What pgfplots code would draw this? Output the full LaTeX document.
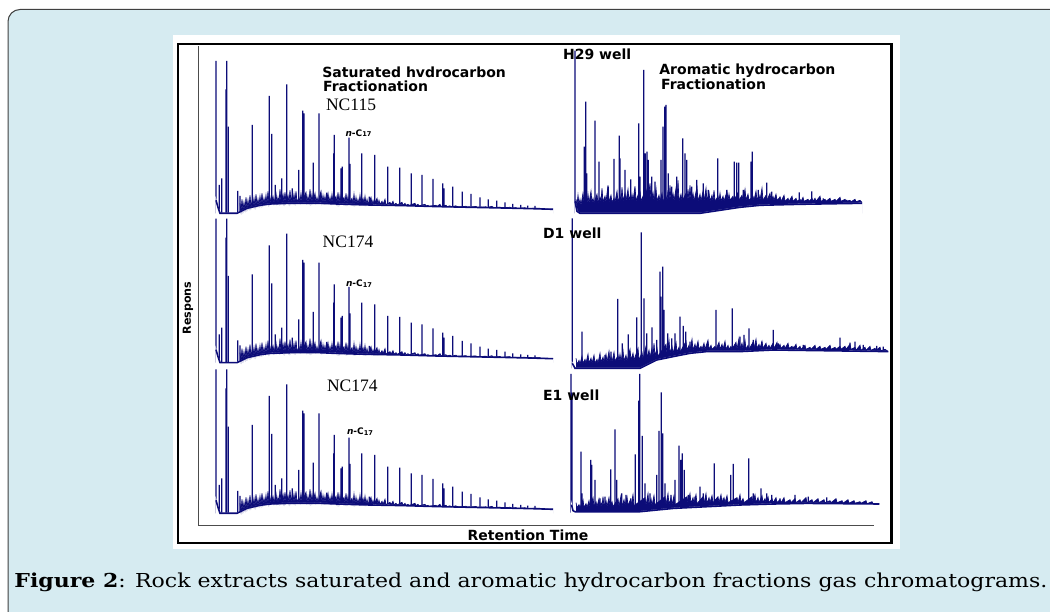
\documentclass[border=0pt]{standalone}
\usepackage{graphicx}
\usepackage{fontspec}
\usepackage{pgfplots}
\usepackage{pgfplotstable}
\pgfplotsset{compat=1.18}
\setmainfont{DejaVu Serif}
\newfontfamily\sansf{DejaVu Sans}
\newfontfamily\serifnc{Liberation Serif}
\newfontfamily\capfont{DejaVu Serif}
\definecolor{navyc}{RGB}{12,12,120}
\definecolor{bgblue}{RGB}{214,235,241}

% ---------- saturated fraction (shared by the three left panels) ----------
\pgfplotstableread[row sep=\\]{x h\\
219.3 28.3\\ 221.7 35\\ 228.3 86.7\\ 237.7 22.3\\ 240 17.3\\ 252.3 88.3\\ 269.3 117.3\\ 271.7 79.3\\
275.3 28.3\\ 281.7 35\\ 286.7 129\\ 292.3 25\\ 298.7 43.3\\ 302.7 102.7\\ 304 100\\ 313.3 50.7\\
319 100\\ 326.7 20.7\\ 333.7 60\\ 334.3 78.3\\ 341 45\\ 342.3 46.7\\ 349 75.7\\ 350 49.3\\
361.7 60\\ 369.3 16.7\\ 374.7 58.3\\ 387.7 46.7\\ 399.7 45.7\\ 411.3 40\\ 422 38.3\\ 433 34.3\\
442.7 30\\ 444 25\\ 452.7 26.7\\ 462.3 21.7\\ 471 19.3\\ 480 16\\ 488.3 14\\ 496.7 12.7\\
505 11\\ 512.7 9.3\\ 520.7 8.3\\ 527.7 7.7\\ 535 7.3\\
}\satpeaks
\pgfplotstableread[row sep=\\]{x h\\
216 13\\ 218 6\\ 220 0\\ 237 0\\ 247 5\\ 260 8\\ 270 9.3\\ 290 10\\ 303 10\\ 320 10\\ 337 9.3\\
355 8.7\\ 370 8.3\\ 403 7.7\\ 437 6.7\\ 470 6\\ 503 5.3\\ 530 4.7\\ 553 4\\
}\satbase
\pgfplotstableread[row sep=\\]{x h\\
240 10\\ 241 2\\ 242 14\\ 243 3\\ 244 11\\ 245 4\\ 246 16\\ 247 5\\ 248 13\\ 249 6\\ 250 18\\ 251 6\\
252 12\\ 253 7\\ 254 15\\ 255 7\\ 256 19\\ 257 8\\ 258 14\\ 259 8\\ 260 17\\ 261 9\\ 262 20\\ 263 9\\
264 15\\ 265 9.5\\ 266 18\\ 267 9.5\\ 268 22\\ 269 9.5\\ 270 16\\ 271 10\\ 273 17\\ 274 10\\ 276 20\\ 277 10.5\\
278 16\\ 279 10.5\\ 280 24\\ 281 10.5\\ 283 19\\ 284 10.5\\ 285 21\\ 286 10.5\\ 288 18\\ 289 10.5\\ 290 23\\ 291 11\\
292 17\\ 293 11\\ 294 19\\ 295 11\\ 296 22\\ 297 11\\ 299 16\\ 300 11\\ 301 20\\ 302 11\\ 306 21\\ 307 11\\
308 17\\ 309 11\\ 310 24\\ 311 11\\ 312 19\\ 313 11\\ 315 20\\ 316 11\\ 317 16\\ 318 11\\ 321 22\\ 322 11\\
323 18\\ 324 11\\ 325 17\\ 326 11\\ 328 20\\ 329 11\\ 330 16\\ 331 10.5\\ 332 19\\ 333 10.5\\ 336 17\\ 337 10\\
338 21\\ 339 10\\ 340 18\\ 341 10\\ 344 16\\ 345 10\\ 346 20\\ 347 10\\ 348 17\\ 349 10\\ 352 15\\ 353 9.5\\
354 19\\ 355 9.5\\ 356 16\\ 357 9.5\\ 358 14\\ 359 9.5\\ 360 18\\ 361 9.5\\ 363 15\\ 364 9.5\\ 365 17\\ 366 9\\
367 14\\ 368 9\\ 371 16\\ 372 9\\ 373 13\\ 374 9\\ 377 15\\ 378 9\\ 379 13\\ 380 8.8\\ 382 12\\ 383 8.8\\
385 14\\ 386 8.6\\ 390 11\\ 391 8.5\\ 393 12\\ 394 8.5\\ 396 10\\ 397 8.3\\ 402 11\\ 403 8\\ 405 10\\ 406 8\\
408 9\\ 409 7.8\\ 415 10\\ 416 7.6\\ 418 9\\ 419 7.4\\ 425 9\\ 426 7.2\\ 428 8\\ 429 7\\ 436 8\\ 437 6.9\\
440 9\\ 441 6.8\\ 446 8\\ 447 6.6\\ 450 7.5\\ 451 6.4\\ 456 7.5\\ 457 6.3\\ 466 7\\ 467 6.1\\ 476 6.8\\ 477 5.9\\
486 6.5\\ 487 5.7\\ 492 7\\ 493 5.6\\ 500 6.2\\ 501 5.4\\ 510 6\\ 511 5.2\\ 516 5.5\\ 517 5\\ 525 5.5\\ 526 4.9\\
540 5\\ 541 4.5\\ 553 4\\
}\satnoise

% ---------- aromatic fraction, H29 well ----------
\pgfplotstableread[row sep=\\]{x h\\
575 162.7\\ 584.3 66.7\\ 585.7 111.7\\ 586.7 40\\ 595 92.7\\ 599 51.7\\ 608.3 26.7\\ 614 54.3\\
619.3 77.7\\ 620 55\\ 625 43.3\\ 630.7 34\\ 638.7 90\\ 640 36.7\\ 643.7 143.3\\ 645.3 60\\
647 61.7\\ 648.3 53.3\\ 651.7 36.7\\ 655 31.7\\ 661 53.3\\ 663 86.7\\ 664.7 106.7\\ 666 108.3\\
668.3 40\\ 671.7 26.7\\ 676.7 36.7\\ 682.7 75\\ 685 60\\ 686.7 53.3\\ 691.7 26.7\\ 696.7 33.3\\
703.3 30\\ 708.3 23.3\\ 717.7 55\\ 726.7 23.3\\ 734.3 51.7\\ 736.7 50.7\\ 738.7 50.7\\ 743.3 23.3\\
751 51.7\\ 752.3 61.7\\ 758.3 23.3\\ 766.7 30.7\\ 771.7 21.7\\ 780 16.7\\ 799.3 21\\ 811.7 22\\
823.3 15\\ 846.7 13.3\\
}\aropeaksA
\pgfplotstableread[row sep=\\]{x h\\
575 12\\ 577 2\\ 580 0\\ 700 0\\ 720 3\\ 740 6\\ 760 8\\ 800 9\\ 862 10\\
}\arobaseA
\pgfplotstableread[row sep=\\]{x h\\
576 14\\ 577 8\\ 578 18\\ 579 9\\ 580 14\\ 581 8\\ 583 20\\ 584 10\\ 586 16\\ 587 9\\ 588 19\\ 589 10\\
591 22\\ 592 10\\ 593 15\\ 594 10\\ 597 19\\ 598 10\\ 600 16\\ 601 11\\ 602 25\\ 603 11\\ 605 17\\ 606 11\\
608 28\\ 609 11\\ 611 18\\ 612 11\\ 614 15\\ 615 11\\ 617 22\\ 618 11\\ 620 18\\ 621 11\\ 622 26\\ 623 12\\
625 20\\ 626 12\\ 628 24\\ 629 12\\ 630 17\\ 631 12\\ 632 19\\ 633 12\\ 635 27\\ 636 12\\ 638 18\\ 639 12\\
640 22\\ 641 12\\ 643 17\\ 644 12\\ 647 24\\ 648 12\\ 650 30\\ 651 12\\ 653 21\\ 654 12\\ 656 25\\ 657 12\\
659 18\\ 660 12\\ 662 20\\ 663 12\\ 666 17\\ 667 12\\ 668 23\\ 669 12\\ 670 28\\ 671 12\\ 673 20\\ 674 12\\
676 25\\ 677 12\\ 678 33\\ 679 12\\ 681 19\\ 682 12\\ 686 20\\ 687 12\\ 688 24\\ 689 12\\ 690 28\\ 691 12\\
693 20\\ 694 12\\ 697 26\\ 698 12\\ 700 19\\ 701 12\\ 703 22\\ 704 12\\ 706 25\\ 707 12\\ 709 21\\ 710 12\\
712 18\\ 713 12\\ 714 23\\ 715 12\\ 718 17\\ 719 12\\ 720 20\\ 721 12\\ 723 17\\ 724 12\\ 727 22\\ 728 13\\
729 19\\ 730 13\\ 733 17\\ 734 13\\ 738 21\\ 739 13\\ 742 18\\ 743 13\\ 745 24\\ 746 13\\ 748 19\\ 749 13\\
753 17\\ 754 13\\ 756 22\\ 757 13\\ 759 18\\ 760 13\\ 762 25\\ 763 13\\ 766 18\\ 767 13\\ 770 20\\ 771 13\\
773 17\\ 774 13\\ 776 19\\ 777 13\\ 780 16\\ 781 12\\ 784 18\\ 785 12\\ 788 15\\ 789 12\\ 792 17\\ 793 12\\
796 15\\ 797 12\\ 800 14\\ 801 12\\ 803 16\\ 804 12\\ 808 14\\ 809 12\\ 812 15\\ 813 12\\ 815 15\\ 816 12\\
820 17\\ 821 12\\ 825 14\\ 826 12\\ 830 15\\ 831 12\\ 835 14\\ 836 12\\ 840 16\\ 841 12\\ 845 14\\ 846 12\\
850 13\\ 851 11.5\\ 855 14\\ 856 11.5\\ 860 13\\ 862 11\\
}\aronoiseA

% ---------- aromatic fraction, D1 well ----------
\pgfplotstableread[row sep=\\]{x h\\
572.3 150\\ 582 36.7\\ 605 13.3\\ 611 16.7\\ 617.7 69.3\\ 622.3 25\\ 628.3 34\\ 636.7 51\\
641.3 136\\ 644 70\\ 646.7 35\\ 652 41\\ 656.7 28.3\\ 660 96.7\\ 661 71.7\\ 662.7 101.7\\
664 58.3\\ 667.7 35\\ 671.7 30\\ 675 35\\ 680 51.7\\ 683.3 42.3\\ 685.7 36.7\\ 690 26.7\\
696.7 21.7\\ 706.7 21.7\\ 716 58.3\\ 721.7 21.7\\ 732.3 60\\ 740 31.7\\ 744 33.3\\ 749 40\\
753.3 28.3\\ 761.7 26.7\\ 773.3 38.3\\ 778.3 25\\ 793.3 21.7\\ 803.3 23.3\\ 830 22.3\\ 840 30.7\\
850 25.7\\ 855 26.7\\ 863.3 23.3\\ 876.7 22.3\\ 883.3 21.7\\
}\aropeaksB
\pgfplotstableread[row sep=\\]{x h\\
572.3 5\\ 575 0\\ 640 0\\ 656.7 8.3\\ 673.3 11.7\\ 690 15\\ 706.7 16.7\\ 740 16.7\\ 773.3 18.3\\ 888.3 16.7\\
}\arobaseB
\pgfplotstableread[row sep=\\]{x h\\
576 10\\ 577 4\\ 579 8\\ 580 4\\ 582 12\\ 583 5\\ 585 9\\ 586 5\\ 588 14\\ 589 5\\ 591 10\\ 592 5\\
594 13\\ 595 5\\ 597 9\\ 598 5\\ 600 15\\ 601 6\\ 603 11\\ 604 6\\ 606 14\\ 607 6\\ 609 17\\ 610 6\\
611 12\\ 612 6\\ 614 16\\ 615 7\\ 618 13\\ 619 7\\ 620 14\\ 621 7\\ 623 18\\ 624 7\\ 626 13\\ 627 7\\
630 19\\ 631 8\\ 633 15\\ 634 8\\ 638 20\\ 639 8\\ 642 16\\ 643 9\\ 646 22\\ 647 10\\ 649 18\\ 650 11\\
652 20\\ 653 11\\ 654 25\\ 655 12\\ 657 20\\ 658 12\\ 666 24\\ 667 14\\ 669 28\\ 670 15\\ 672 22\\ 673 15\\
676 26\\ 677 16\\ 679 21\\ 680 16\\ 686 27\\ 687 18\\ 689 23\\ 690 18\\ 692 29\\ 693 18\\ 695 24\\ 696 19\\
698 27\\ 699 19\\ 701 22\\ 702 19\\ 704 25\\ 705 19\\ 708 28\\ 709 19\\ 711 23\\ 712 19\\ 715 22\\ 716 19\\
719 26\\ 720 19\\ 722 24\\ 723 19\\ 725 27\\ 726 19\\ 728 23\\ 729 19\\ 731 22\\ 732 19\\ 736 26\\ 737 19\\
739 30\\ 740 19\\ 742 25\\ 743 19\\ 745 28\\ 746 19\\ 748 23\\ 749 19\\ 753 26\\ 754 20\\ 756 29\\ 757 20\\
759 24\\ 760 20\\ 762 27\\ 763 20\\ 766 25\\ 767 20\\ 769 23\\ 770 20\\ 773 25\\ 774 20\\ 777 26\\ 778 20\\
780 24\\ 781 20\\ 784 23\\ 785 20\\ 788 25\\ 789 20\\ 792 22\\ 793 19\\ 796 24\\ 797 19\\ 800 22\\ 801 19\\
805 23\\ 806 19\\ 810 21\\ 811 19\\ 815 23\\ 816 19\\ 820 22\\ 821 19\\ 825 21\\ 826 19\\ 830 23\\ 831 19\\
835 21\\ 836 19\\ 840 22\\ 841 19\\ 845 22\\ 846 19\\ 850 24\\ 851 19\\ 855 21\\ 856 18\\ 860 23\\ 861 18\\
865 21\\ 866 18\\ 870 22\\ 871 18\\ 875 20\\ 876 18\\ 880 21\\ 881 17.5\\ 885 19\\ 888 17\\
}\aronoiseB

% ---------- aromatic fraction, E1 well ----------
\pgfplotstableread[row sep=\\]{x h\\
571 138.7\\ 572 120\\ 581 61\\ 582 19.3\\ 590.7 52.7\\ 591.7 47.7\\ 595 32.7\\ 600 14.3\\
605 16\\ 610.7 43.3\\ 615 83.3\\ 616.7 32.7\\ 621.7 19.3\\ 626 17.7\\ 630.7 14.3\\ 635.3 58.3\\
638.7 112\\ 639.7 138.7\\ 642.3 76.7\\ 645 29.3\\ 650 19.3\\ 656.7 37.7\\ 659 81.7\\ 661.3 120.3\\
662.7 79.3\\ 665 29.3\\ 671 17.7\\ 675 32.7\\ 679 67\\ 680.7 52.7\\ 682.3 59.3\\ 684.3 42.7\\
688.3 17.7\\ 695 16\\ 700 26\\ 703.3 19.3\\ 714.3 49.3\\ 721.7 14.3\\ 730.7 37.7\\ 733.3 48.7\\
736.7 14.3\\ 748.7 54.3\\ 753.3 19.3\\ 761 24.3\\ 766.7 19.3\\ 771.7 17.7\\ 780 14.3\\ 795 17.7\\
808.3 16\\ 826.7 15.3\\
}\aropeaksC
\pgfplotstableread[row sep=\\]{x h\\
571.5 8\\ 573 2\\ 575 1\\ 640 1\\ 673.3 4.3\\ 706.7 6\\ 740 7.7\\ 773.3 8.7\\ 806.7 9.3\\ 879.3 8.7\\
}\arobaseC
\pgfplotstableread[row sep=\\]{x h\\
576 10\\ 577 5\\ 579 8\\ 580 5\\ 583 13\\ 584 5\\ 586 9\\ 587 5\\ 589 12\\ 590 5\\ 593 15\\ 594 6\\
596 11\\ 597 6\\ 599 14\\ 600 6\\ 601 10\\ 602 6\\ 603 16\\ 604 6\\ 606 12\\ 607 6\\ 609 15\\ 610 6\\
612 11\\ 613 6\\ 618 14\\ 619 6\\ 621 17\\ 622 6\\ 624 13\\ 625 7\\ 627 16\\ 628 7\\ 630 12\\ 631 7\\
633 18\\ 634 7\\ 645 15\\ 646 7\\ 648 19\\ 649 7\\ 651 14\\ 652 7\\ 654 17\\ 655 8\\ 665 16\\ 666 8\\
668 19\\ 669 8\\ 671 15\\ 672 8\\ 674 17\\ 675 8\\ 687 16\\ 688 9\\ 690 19\\ 691 9\\ 693 15\\ 694 9\\
696 18\\ 697 9\\ 703 16\\ 704 9\\ 706 19\\ 707 9\\ 709 15\\ 710 10\\ 712 17\\ 713 10\\ 718 16\\ 719 10\\
721 18\\ 722 10\\ 724 15\\ 725 10\\ 727 17\\ 728 10\\ 737 15\\ 738 10\\ 740 18\\ 741 10\\ 743 14\\ 744 10\\
752 16\\ 753 10\\ 755 18\\ 756 10\\ 758 15\\ 759 10\\ 762 17\\ 763 10\\ 765 14\\ 766 10\\ 768 16\\ 769 10\\
772 14\\ 773 10\\ 776 15\\ 777 10\\ 780 13\\ 781 10\\ 784 15\\ 785 10\\ 790 13\\ 791 10\\ 795 14\\ 796 10\\
800 13\\ 801 10\\ 806 15\\ 807 10\\ 812 13\\ 813 10\\ 818 14\\ 819 10\\ 824 13\\ 825 10\\ 830 12\\ 831 10\\
836 14\\ 837 10\\ 842 12\\ 843 9.5\\ 848 13\\ 849 9.5\\ 854 12\\ 855 9.5\\ 860 11\\ 861 9.5\\ 866 12\\ 867 9\\
872 11\\ 873 9\\ 879 9\\
}\aronoiseC

\pgfplotsset{
  panel/.style={hide axis, x=0.5pt, y=0.5pt, ymin=0, ymax=175, anchor=south west, clip=false},
  pk/.style={ybar, bar width=0.6pt, bar shift=0pt, fill=navyc, draw=none},
  bandfill/.style={fill=navyc, draw=none},
  bandline/.style={navyc, line width=0.35pt},
  wfill/.style={fill=white, draw=white, line width=0.6pt},
  bl/.style={navyc, line width=0.8pt},
}
\newcommand{\boldlbl}{\sansf\bfseries\fontsize{7}{8}\selectfont}
\newcommand{\ncft}{\serifnc\fontsize{8.75}{10}\selectfont}
\newcommand{\nc}{{\sansf\bfseries\fontsize{4.5}{5}\selectfont\itshape n\upshape-C\raisebox{-0.3pt}{\fontsize{3.3}{4}\selectfont 17}}}

\begin{document}
\begin{tikzpicture}
\useasboundingbox (0,0) rectangle (525pt,305.5pt);
\clip (0,0) rectangle (525pt,305.5pt);
\begin{scope}[x=0.5pt,y=0.5pt]
  \fill[white] (0,0) rectangle (1050,611);
  \draw[draw=black!75, fill=bgblue, line width=0.5pt, rounded corners=6pt] (8,-12) rectangle (1070,601.5);
  \fill[white] (173,62) rectangle (900,576);
  \draw[black, line width=1.4pt] (178,68) rectangle (891.5,567);
\end{scope}

% frame axis with the two axis titles
\begin{axis}[at={(99.25pt,42.5pt)}, anchor=south west, width=337.75pt, height=240pt, scale only axis,
  xmin=0, xmax=1, ymin=0, ymax=1, axis x line=bottom, axis y line=left,
  axis line style={-, draw=black!70, line width=0.5pt}, xtick=\empty, ytick=\empty,
  xlabel={Retention Time}, ylabel={Respons},
  xlabel style={at={(axis description cs:0.4878,0)}, anchor=center, yshift=-4.5pt, font=\sansf\bfseries\fontsize{7}{8}\selectfont},
  ylabel style={at={(axis description cs:-0.0155,0.454)}, anchor=center, font=\sansf\bfseries\fontsize{5.55}{6}\selectfont}]
\end{axis}

% ---- left column: saturated hydrocarbons ----
\begin{axis}[panel, xmin=214, xmax=556, at={(107pt,198.85pt)}]
  \addplot[bandfill] table {\satnoise} \closedcycle;
  \addplot[pk] table {\satpeaks};
  \addplot[pk] coordinates {(216,152.3) (226,124) (226.7,152.3)};
  \addplot[wfill] table {\satbase} \closedcycle;
  \addplot[bandline] table {\satnoise};
  \addplot[bl] table {\satbase};
\end{axis}
\begin{axis}[panel, xmin=214, xmax=556, at={(107pt,124.15pt)}]
  \addplot[bandfill] table {\satnoise} \closedcycle;
  \addplot[pk] table {\satpeaks};
  \addplot[pk] coordinates {(216,144) (226,125) (226.7,144)};
  \addplot[wfill] table {\satbase} \closedcycle;
  \addplot[bandline] table {\satnoise};
  \addplot[bl] table {\satbase};
\end{axis}
\begin{axis}[panel, xmin=214, xmax=556, at={(107pt,48.85pt)}]
  \addplot[bandfill] table {\satnoise} \closedcycle;
  \addplot[pk] table {\satpeaks};
  \addplot[pk] coordinates {(216,144) (226,125) (226.7,144)};
  \addplot[wfill] table {\satbase} \closedcycle;
  \addplot[bandline] table {\satnoise};
  \addplot[bl] table {\satbase};
\end{axis}

% ---- right column: aromatic hydrocarbons ----
\begin{axis}[panel, xmin=569, xmax=890, at={(284.5pt,198.85pt)}]
  \addplot[bandfill] table {\aronoiseA} \closedcycle;
  \addplot[pk] table {\aropeaksA};
  \addplot[wfill] table {\arobaseA} \closedcycle;
  \addplot[bandline] table {\aronoiseA};
  \addplot[bl] table {\arobaseA};
\end{axis}
\begin{axis}[panel, xmin=569, xmax=890, at={(284.5pt,121.35pt)}]
  \addplot[bandfill] table {\aronoiseB} \closedcycle;
  \addplot[pk] table {\aropeaksB};
  \addplot[wfill] table {\arobaseB} \closedcycle;
  \addplot[bandline] table {\aronoiseB};
  \addplot[bl] table {\arobaseB};
\end{axis}
\begin{axis}[panel, xmin=569, xmax=890, at={(284.5pt,49.15pt)}]
  \addplot[bandfill] table {\aronoiseC} \closedcycle;
  \addplot[pk] table {\aropeaksC};
  \addplot[wfill] table {\arobaseC} \closedcycle;
  \addplot[bandline] table {\aronoiseC};
  \addplot[bl] table {\arobaseC};
\end{axis}

\begin{scope}[x=0.5pt,y=0.5pt]
  \node[anchor=base west, inner sep=0] at (322,533.7) {\boldlbl Saturated hvdrocarbon};
  \node[anchor=base west, inner sep=0] at (322.7,519.3) {\boldlbl Fractionation};
  \node[anchor=base west, inner sep=0] at (325.7,500) {\ncft NC115};
  \node[inner sep=0] at (358.5,477.7) {\nc};
  \node[anchor=base west, inner sep=0] at (562.7,551) {\boldlbl H29 well};
  \node[anchor=base west, inner sep=0] at (659,536) {\boldlbl Aromatic hydrocarbon};
  \node[anchor=base west, inner sep=0] at (660.7,521) {\boldlbl Fractionation};
  \node[anchor=base west, inner sep=0] at (322.3,363.7) {\ncft NC174};
  \node[inner sep=0] at (359,327.5) {\nc};
  \node[anchor=base west, inner sep=0] at (542.7,372) {\boldlbl D1 well};
  \node[anchor=base west, inner sep=0] at (326.7,219) {\ncft NC174};
  \node[inner sep=0] at (360,179.3) {\nc};
  \node[anchor=base west, inner sep=0] at (542.7,210.3) {\boldlbl E1 well};
  \node[anchor=base west, inner sep=0] at (14,24) {\capfont\fontsize{9.6}{11}\selectfont\resizebox{516.5pt}{\height}{\textbf{Figure 2}: Rock extracts saturated and aromatic hydrocarbon fractions gas chromatograms.}};
\end{scope}
\end{tikzpicture}
\end{document}
